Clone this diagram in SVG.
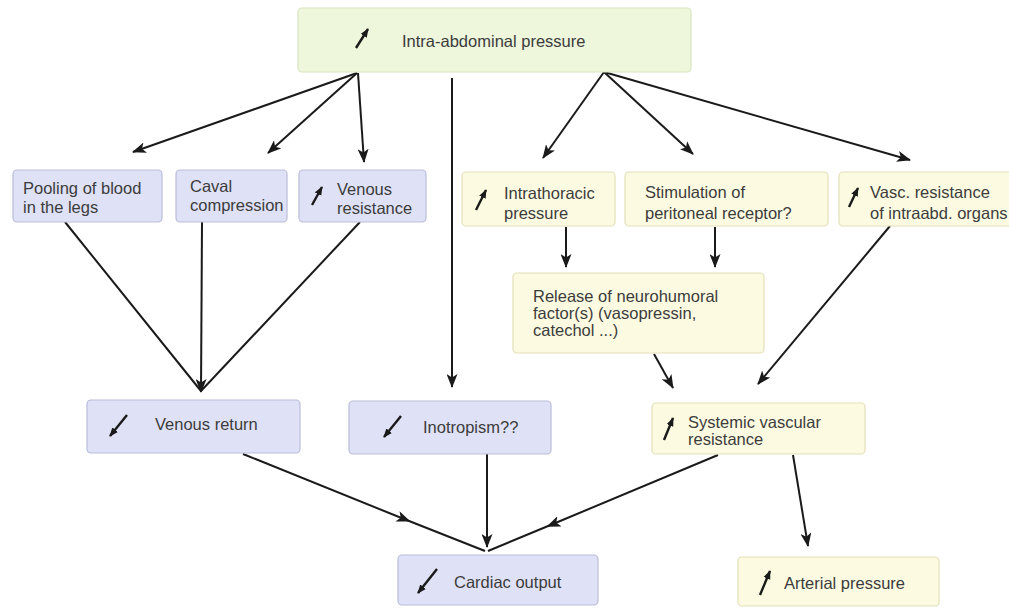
<svg xmlns="http://www.w3.org/2000/svg" width="1009" height="609" viewBox="0 0 1009 609">
<defs>
<marker id="ah" viewBox="0 0 14 11" refX="13" refY="5.5" markerWidth="14" markerHeight="11" markerUnits="userSpaceOnUse" orient="auto">
<path d="M0,0 L14,5.5 L0,11 L3.5,5.5 Z" fill="#1a1a1a"/>
</marker>
<marker id="ahm" viewBox="0 0 14 11" refX="7" refY="5.5" markerWidth="14" markerHeight="11" markerUnits="userSpaceOnUse" orient="auto">
<path d="M0,0 L14,5.5 L0,11 L3.5,5.5 Z" fill="#1a1a1a"/>
</marker>
<marker id="ih" viewBox="0 0 10 8" refX="9" refY="4" markerWidth="9" markerHeight="8" markerUnits="userSpaceOnUse" orient="auto">
<path d="M0,0 L10,4 L0,8 Z" fill="#1a1a1a"/>
</marker>
</defs>
<style>
.g{fill:#eef6dc;stroke:#d6e6c0;stroke-width:1.2}
.b{fill:#dfe2f6;stroke:#b9bdd9;stroke-width:1.2}
.y{fill:#fcfbe1;stroke:#e4e0b9;stroke-width:1.2}
text{font-family:"Liberation Sans",Arial,sans-serif;font-size:16.5px;fill:#3c3c3c}
.c{fill:none;stroke:#1a1a1a;stroke-width:2;marker-end:url(#ah)}
.cm{fill:none;stroke:#1a1a1a;stroke-width:2;marker-mid:url(#ahm)}
.n{fill:none;stroke:#1a1a1a;stroke-width:2}
.i{fill:none;stroke:#1a1a1a;stroke-width:2.4;marker-end:url(#ih)}
</style>
<rect width="1009" height="609" fill="#ffffff"/>
<g id="connectors">
<line class="c" x1="357" y1="73" x2="133" y2="152"/>
<line class="c" x1="357" y1="73" x2="268" y2="153"/>
<line class="c" x1="358" y1="73" x2="364" y2="162"/>
<line class="c" x1="452" y1="78" x2="452" y2="387"/>
<line class="c" x1="604" y1="72" x2="543" y2="158"/>
<line class="c" x1="604" y1="72" x2="693" y2="154"/>
<line class="c" x1="604" y1="72" x2="910" y2="160"/>
<line class="n" x1="65" y1="222" x2="201" y2="391"/>
<line class="c" x1="202" y1="222" x2="201" y2="392"/>
<line class="n" x1="360" y1="222" x2="201" y2="391"/>
<line class="c" x1="566" y1="227" x2="566" y2="267"/>
<line class="c" x1="715" y1="227" x2="715" y2="267"/>
<line class="c" x1="654" y1="354" x2="673" y2="388"/>
<line class="c" x1="890" y1="226" x2="758" y2="384"/>
<path class="cm" d="M243,454 L404,519 L485,551"/>
<line class="c" x1="487" y1="454" x2="487" y2="547"/>
<path class="cm" d="M718,455 L553,524 L488,551"/>
<line class="c" x1="793" y1="455" x2="808" y2="546"/>
</g>
<g id="n-iap">
<rect class="g" x="298" y="8" width="393" height="64" rx="4"/>
<line class="i" x1="356" y1="48" x2="368" y2="29"/>
<text x="402" y="47">Intra-abdominal pressure</text>
</g>
<g id="n-pooling">
<rect class="b" x="13" y="170" width="149" height="52" rx="4"/>
<text x="23" y="194">Pooling of blood</text>
<text x="23" y="213">in the legs</text>
</g>
<g id="n-caval">
<rect class="b" x="176" y="170" width="111" height="52" rx="4"/>
<text x="190" y="192">Caval</text>
<text x="190" y="211">compression</text>
</g>
<g id="n-venres">
<rect class="b" x="299" y="170" width="127" height="52" rx="4"/>
<line class="i" x1="312" y1="205" x2="322" y2="187"/>
<text x="337" y="195">Venous</text>
<text x="337" y="214">resistance</text>
</g>
<g id="n-intrathoracic">
<rect class="y" x="462" y="172" width="153" height="54" rx="4"/>
<line class="i" x1="476" y1="210" x2="486" y2="190"/>
<text x="504" y="199">Intrathoracic</text>
<text x="504" y="219">pressure</text>
</g>
<g id="n-stimulation">
<rect class="y" x="625" y="172" width="203" height="54" rx="4"/>
<text x="645" y="198">Stimulation of</text>
<text x="645" y="219">peritoneal receptor?</text>
</g>
<g id="n-vascres">
<rect class="y" x="839" y="172" width="180" height="54" rx="4"/>
<line class="i" x1="849" y1="207" x2="858" y2="188"/>
<text x="870" y="198">Vasc. resistance</text>
<text x="870" y="219">of intraabd. organs</text>
</g>
<g id="n-release">
<rect class="y" x="513" y="273" width="251" height="80" rx="4"/>
<text x="533" y="302">Release of neurohumoral</text>
<text x="533" y="319">factor(s) (vasopressin,</text>
<text x="533" y="336">catechol ...)</text>
</g>
<g id="n-venret">
<rect class="b" x="87" y="400" width="213" height="53" rx="4"/>
<line class="i" x1="127" y1="415" x2="110" y2="436"/>
<text x="155" y="430">Venous return</text>
</g>
<g id="n-inotropism">
<rect class="b" x="349" y="401" width="202" height="53" rx="4"/>
<line class="i" x1="401" y1="416" x2="384" y2="437"/>
<text x="423" y="433">Inotropism??</text>
</g>
<g id="n-svr">
<rect class="y" x="652" y="403" width="213" height="51" rx="4"/>
<line class="i" x1="664" y1="440" x2="673" y2="418"/>
<text x="688" y="428">Systemic vascular</text>
<text x="688" y="445">resistance</text>
</g>
<g id="n-co">
<rect class="b" x="398" y="555" width="200" height="50" rx="4"/>
<line class="i" x1="437" y1="569" x2="418" y2="593"/>
<text x="454" y="588">Cardiac output</text>
</g>
<g id="n-ap">
<rect class="y" x="738" y="557" width="201" height="49" rx="4"/>
<line class="i" x1="760" y1="595" x2="770" y2="571"/>
<text x="784" y="589">Arterial pressure</text>
</g>
</svg>
